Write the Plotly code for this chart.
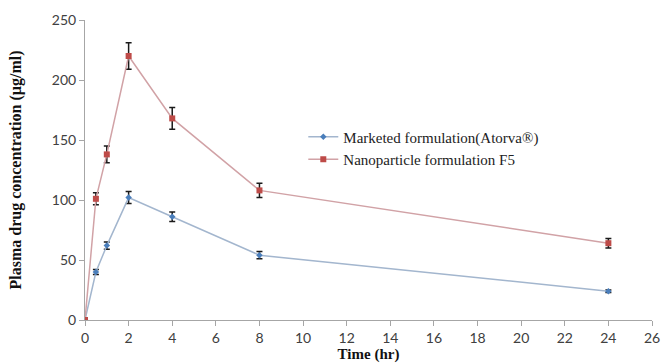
import plotly.graph_objects as go

# Sampling times (hr)
time_hr = [0, 0.5, 1, 2, 4, 8, 24]

# Plasma drug concentration (µg/ml) with standard deviations
marketed_conc = [0, 40, 62, 102, 86, 54, 24]
marketed_sd = [0, 2, 3, 5, 4, 3, 1]
nano_conc = [0, 101, 138, 220, 168, 108, 64]
nano_sd = [0, 5, 7, 11, 9, 6, 4]

x_ticks = list(range(0, 27, 2))
y_ticks = [0, 50, 100, 150, 200, 250]

fig = go.Figure()

fig.add_trace(go.Scatter(
    x=time_hr, y=marketed_conc,
    mode="lines+markers",
    name="Marketed formulation(Atorva®)",
    line=dict(color="#a3b6ce", width=1.5),
    marker=dict(symbol="diamond", size=5, color="#4a7ebb"),
    error_y=dict(type="data", array=marketed_sd, visible=True,
                 color="#1a1a1a", thickness=1.5, width=3),
))

fig.add_trace(go.Scatter(
    x=time_hr, y=nano_conc,
    mode="lines+markers",
    name="Nanoparticle formulation F5",
    line=dict(color="#d1a2a6", width=1.5),
    marker=dict(symbol="square", size=6, color="#be4b48"),
    error_y=dict(type="data", array=nano_sd, visible=True,
                 color="#1a1a1a", thickness=1.5, width=3),
))

axis_common = dict(
    showgrid=False, zeroline=False, automargin=False,
    showline=True, linecolor="#a6a6a6", linewidth=1,
    ticks="outside", tickcolor="#a6a6a6", ticklen=5,
    tickfont=dict(family="Lato, Open Sans, sans-serif", size=14, color="#404040"),
)

fig.update_layout(
    width=663, height=363,
    margin=dict(l=85, r=11, t=20, b=43),
    paper_bgcolor="white", plot_bgcolor="white",
    xaxis=dict(
        range=[0, 26], tickvals=x_ticks,
        title=dict(text="<b>Time (hr)</b>", standoff=0,
                   font=dict(family="Liberation Serif, Times New Roman, serif", size=15, color="#111")),
        **axis_common,
    ),
    yaxis=dict(
        range=[0, 250], tickvals=y_ticks,
        title=dict(text="<b>Plasma drug concentration (µg/ml)</b>", standoff=26,
                   font=dict(family="Liberation Serif, Times New Roman, serif", size=16, color="#111")),
        **axis_common,
    ),
    legend=dict(
        x=0.385, y=0.665, xanchor="left", yanchor="top",
        bgcolor="rgba(0,0,0,0)", tracegroupgap=0,
        font=dict(family="Liberation Serif, Times New Roman, serif", size=15, color="#222"),
        itemwidth=30,
    ),
    showlegend=True,
)

fig.write_html("out.html")
